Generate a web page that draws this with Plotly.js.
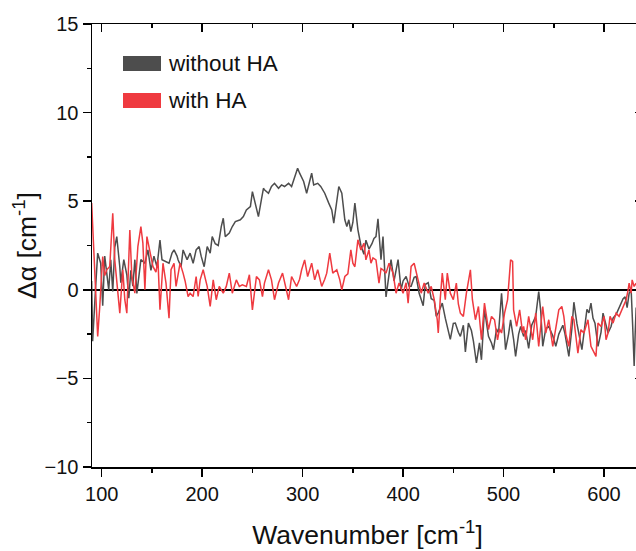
<!DOCTYPE html>
<html><head><meta charset="utf-8">
<script src="https://cdn.plot.ly/plotly-3.0.1.min.js"></script>
<style>html,body{margin:0;padding:0;overflow:hidden;background:#fff}#chart{width:644px;height:551px}</style>
</head><body><div id="chart"></div>
<script>
const seriesNames = ['without HA', 'with HA'];
const wnWithout = [90,91,94,96,99,101,103,105,107,109,111,113,115,118,119,122,125,127,129,131,133,135,138,139,143,146,149,152,155,158,160,164,167,170,172,175,176,179,181,185,188,191,194,197,199,202,205,208,210,213,216,219,221,223,227,230,233,238,241,244,248,250,253,256,259,261,262,266,269,272,276,279,282,286,289,292,295,297,301,304,307,309,311,315,318,322,326,329,331,334,336,339,342,344,346,348,350,352,355,358,361,363,366,369,371,373,375,378,380,383,386,388,391,395,398,400,403,406,408,411,413,416,420,422,425,428,431,433,435,439,442,447,450,452,455,457,460,462,465,468,470,473,476,478,481,485,488,490,493,495,498,500,502,505,507,510,512,515,517,520,522,525,528,532,535,537,539,542,545,549,552,555,557,559,561,563,565,568,570,573,575,578,581,583,585,587,589,591,594,597,599,602,604,607,609,612,615,617,619,621,623,625,627,628.5,630,631,632];
const daWithout = [0.5,-2.9,0.2,2.07,1.5,-0.9,1.9,1.1,0.0,1.7,-0.1,2.4,3.0,1.3,0.4,1.7,0.85,-0.47,1.1,0.2,1.7,-0.2,1.1,1.7,1.5,2.25,1.1,1.9,1.3,2.8,1.7,1.6,1.5,2.07,2.25,1.9,1.7,1.3,2.25,1.7,2.07,1.5,2.25,2.44,1.9,1.3,2.44,2.07,3.0,2.6,2.5,3.57,4.04,3.0,3.2,3.57,3.85,3.95,4.13,4.5,4.7,5.54,4.9,4.13,5.1,5.73,5.64,5.45,5.83,6.01,5.73,5.92,5.83,6.01,5.83,6.29,6.86,6.58,6.11,5.45,6.2,6.58,5.92,6.01,5.83,5.45,4.89,4.51,3.76,5.07,5.83,5.45,3.95,3.57,3.95,3.29,3.8,4.9,3.4,2.5,2.0,2.8,2.3,2.6,2.9,3.0,4.0,1.7,3.0,-0.4,0.8,1.7,0.5,1.7,0.0,0.5,0.75,0.2,0.2,0.7,0.75,-0.2,-0.9,0.3,0.4,-0.5,-0.6,-1.5,-1.3,-0.75,-1.6,-2.8,-1.9,-1.88,-2.4,-2.63,-2.0,-3.5,-1.88,-2.3,-2.9,-4.13,-3.0,-3.95,-1.1,-2.63,-3.0,-3.38,-2.2,-2.44,-0.2,-2.0,-3.38,-2.5,-1.7,-2.8,-3.76,-2.5,-2.07,-2.63,-2.3,-3.3,-2.0,-1.5,-0.1,-1.2,-3.19,-2.2,-2.07,-2.6,-3.19,-2.5,-2.25,-2.0,-2.44,-3.0,-3.76,-2.2,-0.7,-1.9,-2.44,-3.38,-2.0,-1.1,-1.3,-0.75,-1.6,-1.88,-3.19,-2.4,-1.32,-2.1,-2.44,-2.07,-1.6,-1.4,-1.0,-0.75,-0.5,-0.4,-1.0,-0.2,0.0,-2.0,-4.3,-2.5,-1.0];
const wnWith = [90,91,93,96,98,100,101,103,105,108,111,113,116,118,121,123,125,128,130,133,136,139,141,143,145,148,151,154,156,158,161,164,167,169,172,174,176,178,181,183,186,188,191,194,196,198,201,205,208,211,214,217,221,224,227,230,234,237,240,244,247,250,254,257,260,262,266,269,272,276,280,283,286,289,292,294,297,299,302,305,309,312,315,319,322,324,327,330,334,337,339,342,345,348,350,352,355,358,361,363,366,368,370,373,376,378,380,383,386,390,393,396,400,403,405,408,411,415,418,421,425,428,431,434,435,437,439,442,444,447,450,453,455,457,460,463,465,467,469,472,475,478,481,483,485,488,491,494,496,498,501,504,506,507,509,510,513,516,519,520,522,525,529,532,535,539,542,545,549,552,555,558,560,562,565,568,570,574,577,580,584,587,590,592,594,597,600,602,604,606,609,612,615,619,622,624,625,627,628,630,632];
const daWith = [4.9,3.5,1.7,-2.63,-1.0,0.75,1.88,0.8,1.13,1.32,4.32,1.69,0.0,-1.32,1.13,-0.56,-1.32,3.38,0.75,-0.19,2.44,3.57,2.63,0.0,3.0,2.25,1.32,1.0,1.69,-1.13,1.5,0.38,-1.6,1.13,1.5,0.19,0.9,1.5,0.94,0.5,-0.38,-0.2,-0.38,0.75,-0.38,0.56,1.13,0.19,-0.94,0.56,-0.56,0.19,-0.19,0.19,0.94,-0.19,0.56,0.19,0.28,0.19,0.85,-1.13,0.75,0.56,-0.38,0.38,1.13,0.56,-0.56,0.38,0.94,0.19,-0.56,0.75,0.38,0.19,0.6,1.13,1.69,0.75,1.5,0.56,1.13,0.19,0.6,0.94,2.07,0.94,1.13,0.56,0.0,0.75,0.9,2.25,1.5,1.3,2.82,2.25,2.63,1.69,2.25,1.5,1.8,1.69,0.38,1.2,1.13,0.94,1.5,0.94,-0.19,0.38,-0.19,0.4,-0.75,1.32,1.5,0.56,-0.19,0.38,-0.19,0.19,-0.56,-1.69,-2.44,-0.5,0.94,-0.56,0.94,-0.19,-0.56,0.38,-0.8,-1.32,-1.5,-0.19,0.5,1.13,-0.56,-1.69,-0.94,-2.82,-0.75,-1.5,-2.25,-1.5,-1.69,-2.82,-2.2,-2.44,-1.32,-0.56,1.0,1.69,1.6,-1.13,-2.07,-1.13,-2.44,-2.07,-2.82,-1.5,-2.82,-1.32,-3.19,-0.94,-2.44,-1.69,-3.19,-2.07,-1.13,-0.94,-1.5,-2.5,-3.19,-1.5,-1.69,-3.57,-2.25,-2.44,-1.69,-3.19,-3.57,-3.76,-1.88,-2.07,-1.5,-2.82,-2.44,-1.5,-1.88,-1.32,-1.5,-0.94,-0.56,0.0,0.38,-0.19,0.56,0.19,0.38];
const xTickVals = [100, 200, 300, 400, 500, 600];
const yTickVals = [-10, -5, 0, 5, 10, 15];
const xTitle = 'Wavenumber [cm<sup>-1</sup>]';
const yTitle = 'Δα [cm<sup>-1</sup>]';
const colors = ['#4d4d4d', '#ef3a40'];

// plot-area pixel geometry helpers (for legend placement)
const L = 92, R = 643, T = 24, B = 467;
const px = v => (v - L) / (R - L);
const py = v => (B - v) / (B - T);

const FONT = 'Liberation Sans, Arial, sans-serif';
const traces = [
  {x: wnWithout, y: daWithout, type: 'scatter', mode: 'lines', name: seriesNames[0], line: {color: colors[0], width: 1.5}},
  {x: wnWith, y: daWith, type: 'scatter', mode: 'lines', name: seriesNames[1], line: {color: colors[1], width: 1.5}},
  {x: [], y: [], xaxis: 'x2', yaxis: 'y2', showlegend: false, hoverinfo: 'skip'}
];
const xr = [90.34, 638.8], yr = [-10, 15];
const common = {showgrid: false, zeroline: false, showline: true, linecolor: '#000', linewidth: 1.5, tickcolor: '#000', tickwidth: 1.5};
const layout = {
  width: 644, height: 551,
  margin: {l: L, r: 644 - R, t: T, b: 551 - B},
  paper_bgcolor: '#fff', plot_bgcolor: '#fff',
  showlegend: false,
  font: {family: FONT, color: '#111'},
  xaxis: Object.assign({}, common, {range: xr, tickvals: xTickVals, ticks: 'outside', ticklen: 8,
    minor: {dtick: 50, ticks: 'outside', ticklen: 4, tickwidth: 1.5, tickcolor: '#000'},
    tickfont: {size: 20, family: FONT, color: '#111'},
    title: {text: xTitle, font: {size: 26.5, family: FONT, color: '#111'}, standoff: 22}}),
  yaxis: Object.assign({}, common, {range: yr, tickvals: yTickVals, ticks: 'outside', ticklen: 8,
    zeroline: true, zerolinecolor: '#000', zerolinewidth: 1.5,
    minor: {dtick: 2.5, ticks: 'outside', ticklen: 4, tickwidth: 1.5, tickcolor: '#000'},
    tickfont: {size: 20, family: FONT, color: '#111'},
    title: {text: yTitle, font: {size: 26.5, family: FONT, color: '#111'}, standoff: 0}}),
  xaxis2: Object.assign({}, common, {range: xr, overlaying: 'x', side: 'top', anchor: 'y2', tickvals: xTickVals, ticks: 'inside', ticklen: 8, showticklabels: false,
    minor: {dtick: 50, ticks: 'inside', ticklen: 4, tickwidth: 1.5, tickcolor: '#000'}}),
  yaxis2: Object.assign({}, common, {range: yr, overlaying: 'y', side: 'right', anchor: 'x2', tickvals: yTickVals, ticks: 'inside', ticklen: 8, showticklabels: false,
    minor: {dtick: 2.5, ticks: 'inside', ticklen: 4, tickwidth: 1.5, tickcolor: '#000'}}),
  shapes: [
    {type: 'rect', xref: 'paper', yref: 'paper', x0: px(123), x1: px(161), y0: py(71), y1: py(56), fillcolor: colors[0], line: {width: 0}},
    {type: 'rect', xref: 'paper', yref: 'paper', x0: px(123), x1: px(161), y0: py(108), y1: py(93), fillcolor: colors[1], line: {width: 0}}
  ],
  annotations: [
    {xref: 'paper', yref: 'paper', x: px(166), y: py(64), xanchor: 'left', yanchor: 'middle', text: seriesNames[0], showarrow: false, font: {size: 22.5, family: FONT, color: '#111'}},
    {xref: 'paper', yref: 'paper', x: px(166), y: py(100), xanchor: 'left', yanchor: 'middle', text: seriesNames[1], showarrow: false, font: {size: 22.5, family: FONT, color: '#111'}}
  ]
};
Plotly.newPlot('chart', traces, layout, {staticPlot: true, displayModeBar: false});
</script>
</body></html>
